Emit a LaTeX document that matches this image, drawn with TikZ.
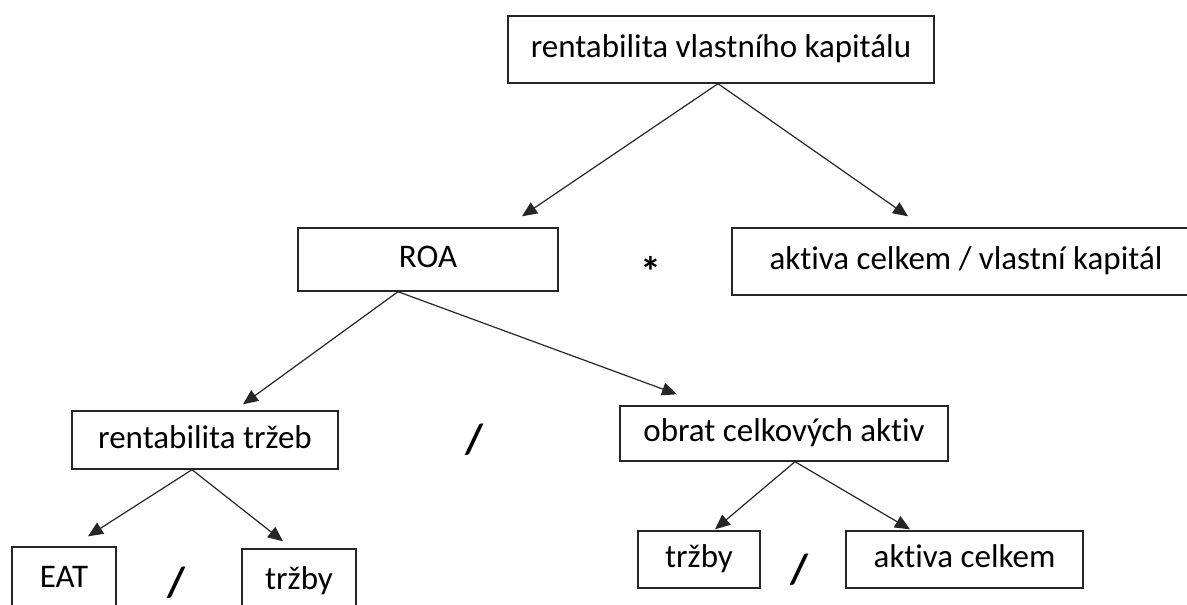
\documentclass[tikz,border=0pt]{standalone}
\usepackage{fontspec}
\setmainfont[Ligatures=NoCommon]{Carlito}
\usetikzlibrary{arrows.meta}

\tikzset{
  indbox/.style={draw=black!85, line width=1.4pt, inner sep=0pt, text height=23pt, text depth=7pt},
  link/.style={draw=black!85, line width=1.2pt, -{Triangle[length=15pt,width=13pt]}},
  op/.style={inner sep=0pt, font=\fontsize{42}{48}\selectfont\bfseries}
}

\begin{document}
\begin{tikzpicture}[x=1pt, y=-1pt, font=\fontsize{33}{38}\selectfont]
    \clip (0,0) rectangle (1187,605);

    % top level
    \node [indbox, minimum width=426pt, minimum height=67pt] (roe) at (721,49.5) {rentabilita vlastního kapitálu};
    \node [indbox, minimum width=260pt, minimum height=63pt] (roa) at (428,259.5) {ROA};
    \node [indbox, minimum width=468pt, minimum height=67pt] (leverage) at (966,261.5) {aktiva celkem / vlastní kapitál};
    \node [op] (times) at (651,271) {*};

    % ROA split
    \node [indbox, minimum width=266pt, minimum height=58pt] (ros) at (205,440) {rentabilita tržeb};
    \node [indbox, minimum width=328pt, minimum height=55pt] (turnover) at (784,433.5) {obrat celkových aktiv};
    \node [op] (div1) at (475,440) {/};

    % bottom row
    \node [indbox, minimum width=104pt, minimum height=64pt] (eat) at (64,579) {EAT};
    \node [indbox, minimum width=114pt, minimum height=64pt] (sales1) at (299,581) {tržby};
    \node [op] (div2) at (177,583) {/};
    \node [indbox, minimum width=122pt, minimum height=57pt] (sales2) at (699,559.5) {tržby};
    \node [indbox, minimum width=237pt, minimum height=57pt] (assets) at (964.5,559.5) {aktiva celkem};
    \node [op] (div3) at (800,570) {/};

    % arrows
    \draw [link] ([xshift=-3pt]roe.south) -- ([xshift=94pt,yshift=11pt]roa.north);
    \draw [link] ([xshift=-3pt]roe.south) -- ([xshift=-58pt,yshift=11pt]leverage.north);
    \draw [link] ([xshift=-30pt]roa.south) -- ([xshift=38pt,yshift=6pt]ros.north);
    \draw [link] ([xshift=-30pt]roa.south) -- ([xshift=-107pt,yshift=11pt]turnover.north);
    \draw [link] ([xshift=-13pt]ros.south) -- ([xshift=24pt,yshift=10pt]eat.north);
    \draw [link] ([xshift=-13pt]ros.south) -- ([xshift=-16pt,yshift=7pt]sales1.north);
    \draw [link] ([xshift=11pt]turnover.south) -- ([xshift=16pt,yshift=1pt]sales2.north);
    \draw [link] ([xshift=11pt]turnover.south) -- ([xshift=-54.5pt,yshift=1pt]assets.north);
\end{tikzpicture}
\end{document}
